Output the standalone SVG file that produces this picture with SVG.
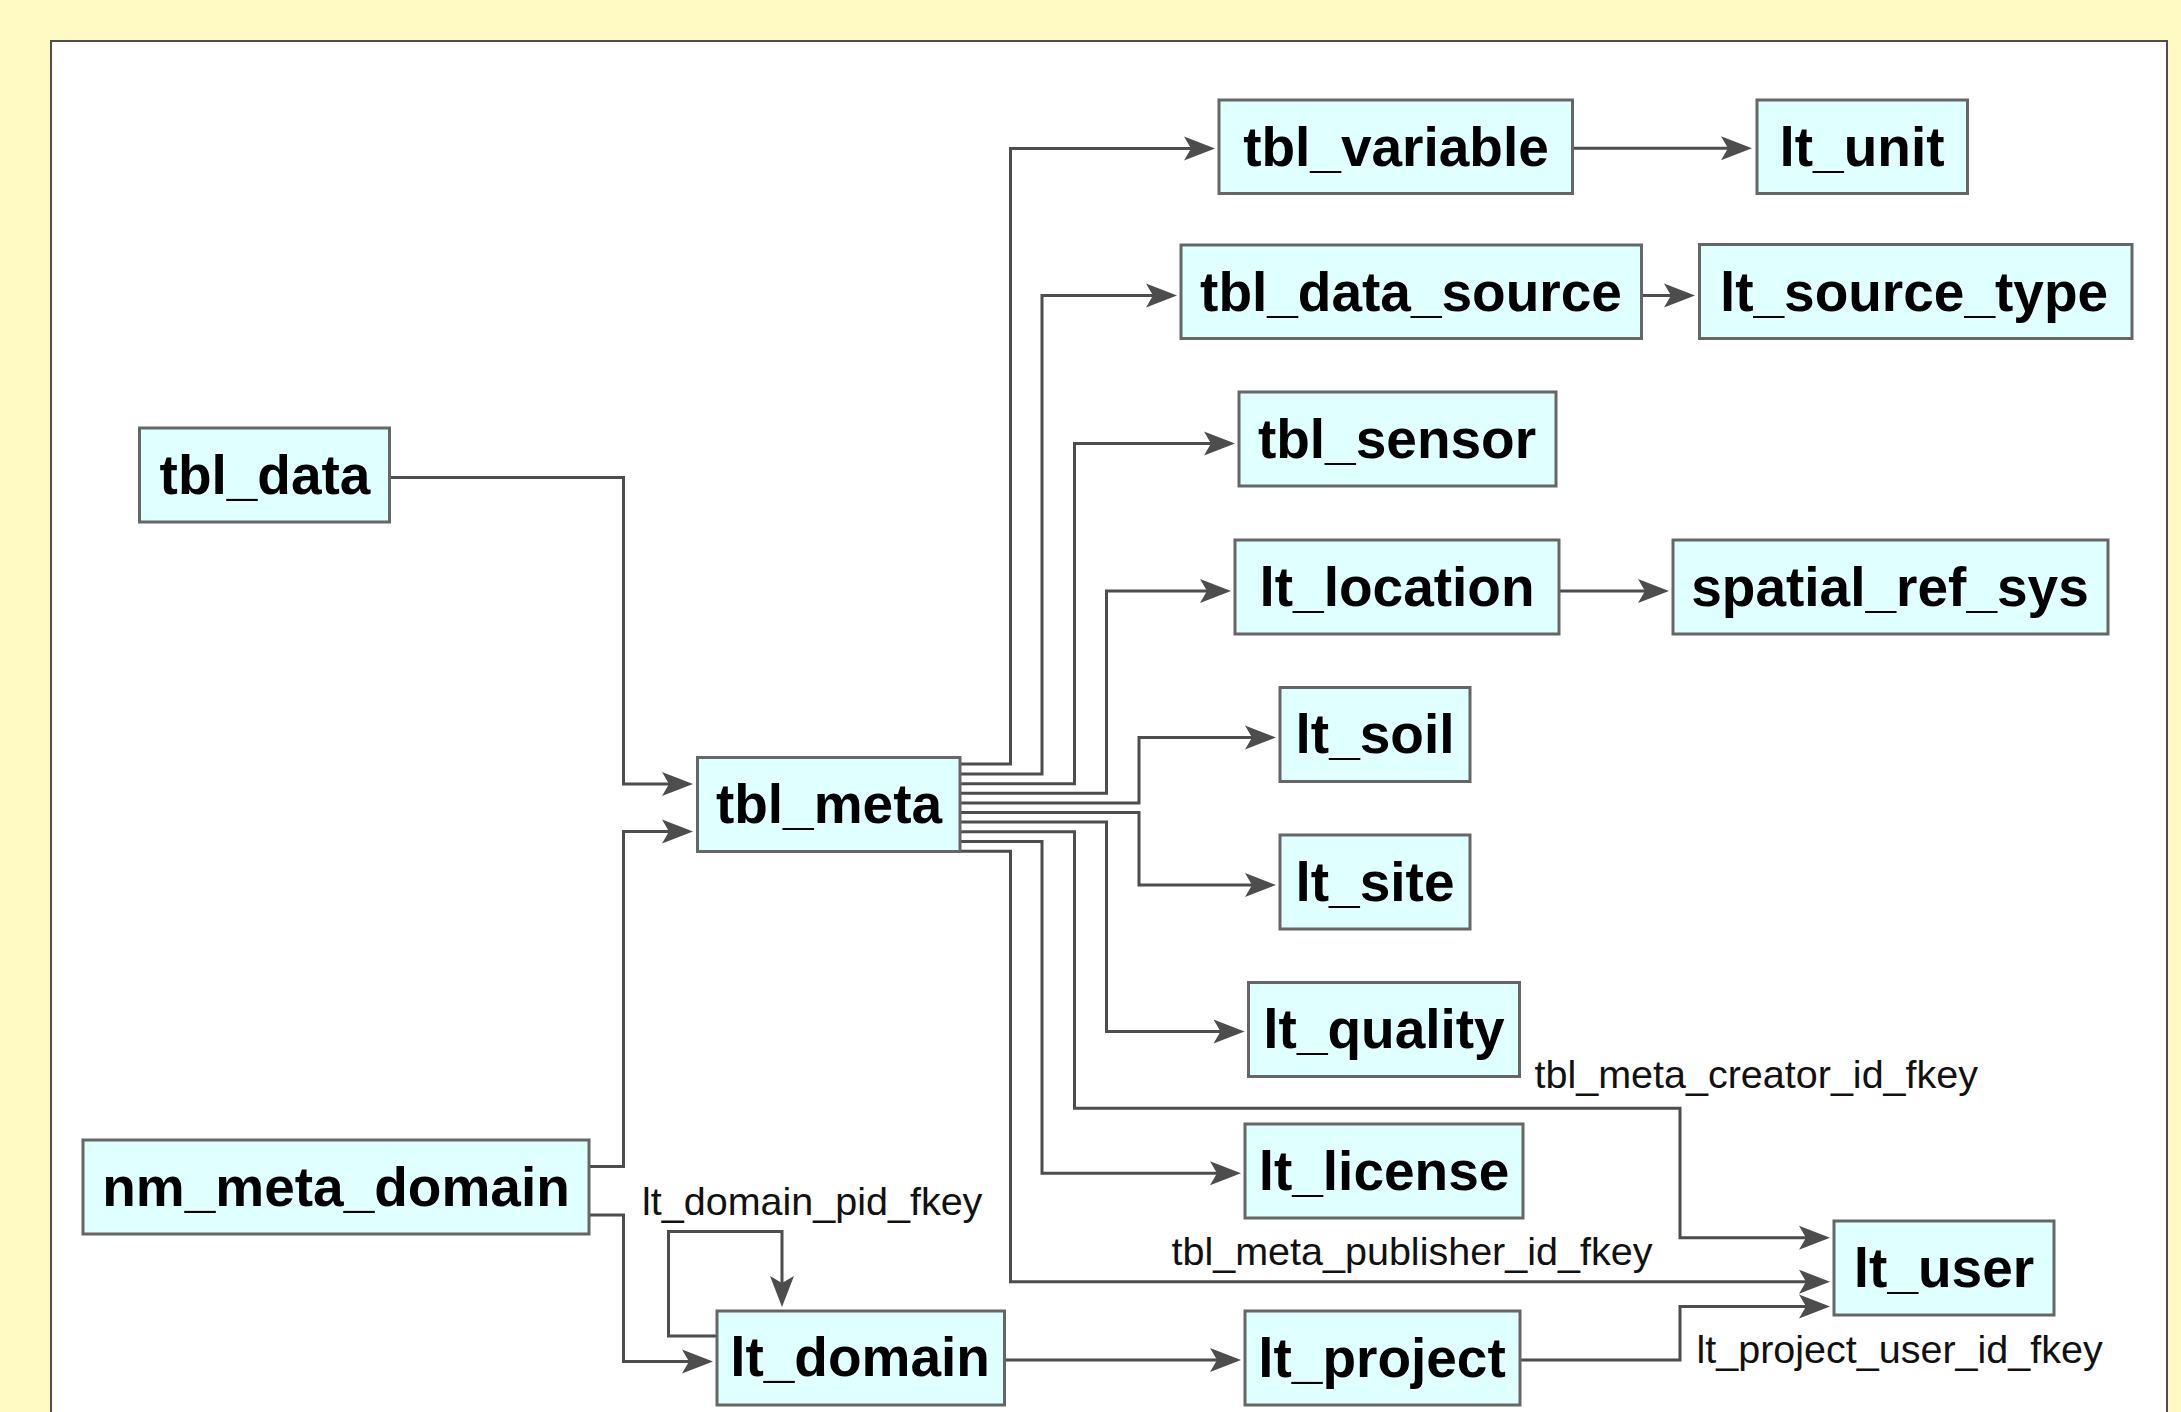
<svg xmlns="http://www.w3.org/2000/svg" width="2181" height="1412" viewBox="0 0 2181 1412">
<style>
.node rect{fill:#e0ffff;stroke:#666;stroke-width:3}
.node text{font-family:"Liberation Sans",Arial,sans-serif;font-weight:bold;font-size:55px;fill:#000;text-anchor:middle}
.conn path{fill:none;stroke:#4d4d4d;stroke-width:3;marker-end:url(#arr)}
.lbl{font-family:"Liberation Sans",Arial,sans-serif;font-size:39.5px;fill:#111}
</style>
<defs>
<marker id="arr" markerUnits="userSpaceOnUse" markerWidth="40" markerHeight="30" viewBox="-26 -15 40 30" refX="0" refY="0" orient="auto">
<path d="M8,0 L-23,-12 L-16,0 L-23,12 Z" fill="#4d4d4d"/>
</marker>
</defs>
<rect x="0" y="0" width="2181" height="1412" fill="#fff9c4"/>
<rect x="51" y="41" width="2116" height="1400" fill="#fff" stroke="#4d4d4d" stroke-width="2"/>
<g class="conn" id="connectors">
<path d="M389,477.5 H623.5 V784 H685"/>
<path d="M589,1166.5 H623.5 V831.5 H685"/>
<path d="M589,1215 H623.5 V1361.5 H705"/>
<path d="M717,1336 H668.5 V1231.5 H782 V1299"/>
<path d="M1004.5,1360 H1233"/>
<path d="M1520,1360 H1680 V1306.5 H1822"/>
<path d="M960,764 H1010.5 V148.5 H1207"/>
<path d="M960,774 H1042 V295.5 H1169"/>
<path d="M960,783.7 H1074.5 V443.5 H1227"/>
<path d="M960,793.3 H1106.5 V591 H1223"/>
<path d="M960,803 H1139 V737.5 H1268"/>
<path d="M960,812.5 H1139 V885 H1268"/>
<path d="M960,822 H1106.5 V1031.5 H1236.5"/>
<path d="M960,831.7 H1074.5 V1108.3 H1680 V1237.7 H1822"/>
<path d="M960,841.5 H1042 V1173.3 H1233"/>
<path d="M960,851.3 H1010.5 V1281.7 H1822"/>
<path d="M1573,148.3 H1744"/>
<path d="M1641.5,295.5 H1687"/>
<path d="M1559,591 H1661"/>
</g>
<g id="labels">
<text class="lbl" x="642" y="1215">lt_domain_pid_fkey</text>
<text class="lbl" x="1534.5" y="1088">tbl_meta_creator_id_fkey</text>
<text class="lbl" x="1171.5" y="1265">tbl_meta_publisher_id_fkey</text>
<text class="lbl" x="1696.5" y="1363">lt_project_user_id_fkey</text>
</g>
<g class="node" id="tbl_data"><rect x="139.5" y="428" width="250" height="94"/><text x="265" y="494">tbl_data</text></g>
<g class="node" id="tbl_meta"><rect x="697.5" y="757.5" width="262.5" height="94"/><text x="829" y="823">tbl_meta</text></g>
<g class="node" id="tbl_variable"><rect x="1219" y="100" width="353.5" height="93.5"/><text x="1396" y="166">tbl_variable</text></g>
<g class="node" id="lt_unit"><rect x="1757" y="100" width="210.5" height="93.5"/><text x="1862" y="166">lt_unit</text></g>
<g class="node" id="tbl_data_source"><rect x="1181" y="245" width="460.5" height="93.5"/><text x="1411" y="311">tbl_data_source</text></g>
<g class="node" id="lt_source_type"><rect x="1699.5" y="244.5" width="432.5" height="94"/><text x="1914" y="311">lt_source_type</text></g>
<g class="node" id="tbl_sensor"><rect x="1239" y="392" width="317" height="94"/><text x="1397" y="458">tbl_sensor</text></g>
<g class="node" id="lt_location"><rect x="1235" y="540" width="324" height="94"/><text x="1397" y="606">lt_location</text></g>
<g class="node" id="spatial_ref_sys"><rect x="1673" y="540" width="435" height="94"/><text x="1890" y="606">spatial_ref_sys</text></g>
<g class="node" id="lt_soil"><rect x="1280" y="687.5" width="190" height="94"/><text x="1375" y="753">lt_soil</text></g>
<g class="node" id="lt_site"><rect x="1280" y="835" width="190" height="94"/><text x="1375" y="901">lt_site</text></g>
<g class="node" id="lt_quality"><rect x="1248.5" y="982.5" width="271" height="94"/><text x="1384" y="1048">lt_quality</text></g>
<g class="node" id="lt_license"><rect x="1245" y="1124" width="278" height="94"/><text x="1384" y="1190">lt_license</text></g>
<g class="node" id="lt_user"><rect x="1834" y="1221" width="220" height="94"/><text x="1944" y="1287">lt_user</text></g>
<g class="node" id="lt_project"><rect x="1245" y="1311" width="275" height="94"/><text x="1382" y="1377">lt_project</text></g>
<g class="node" id="lt_domain"><rect x="717" y="1311" width="287.5" height="94"/><text x="860" y="1376">lt_domain</text></g>
<g class="node" id="nm_meta_domain"><rect x="83" y="1140" width="506" height="94"/><text x="336" y="1206">nm_meta_domain</text></g>
</svg>
